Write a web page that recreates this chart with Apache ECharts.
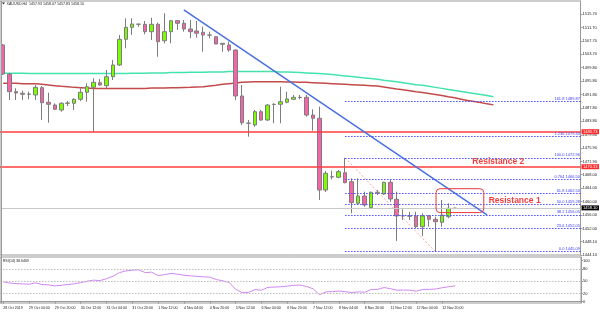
<!DOCTYPE html>
<html><head><meta charset="utf-8">
<script src="https://cdn.jsdelivr.net/npm/echarts@6/dist/echarts.min.js"></script>
<style>html,body{margin:0;padding:0;background:#fff}#c{width:600px;height:313px}</style>
</head><body><div id="c"></div>
<script>
// ---------- DATA ----------
const days = ['28 Oct','29 Oct','30 Oct','31 Oct','1 Nov','4 Nov','5 Nov','6 Nov','7 Nov','8 Nov','11 Nov','12 Nov','13 Nov','14 Nov','15 Nov','18 Nov'];
const hours = ['00:00','04:00','08:00','12:00','16:00','20:00'];
const categories = [];
days.forEach((d, di) => hours.forEach((h, hi) => { if (di === 0 && hi < 3) return; categories.push(d + ' ' + h); }));
categories[0] = '28 Oct 2019';
categories.length = 90;

// H4 candles: [open, high, low, close]
const ohlc = [
 [1506.49,1506.79,1497.58,1497.87],[1497.87,1498.17,1490.15,1492.62],[1492.62,1493.63,1490.15,1492.23],
 [1492.14,1492.91,1490.15,1491.84],[1491.84,1492.62,1490.36,1491.90],[1491.64,1494.61,1490.15,1493.92],
 [1493.80,1494.31,1484.21,1489.35],[1489.47,1492.32,1483.41,1488.87],[1488.66,1489.17,1487.18,1487.39],
 [1487.18,1489.47,1486.67,1489.17],[1489.17,1489.85,1488.37,1489.25],[1489.17,1490.66,1487.18,1490.36],
 [1490.36,1493.63,1489.85,1492.44],[1492.44,1495.11,1489.65,1494.10],[1493.92,1496.60,1480.73,1495.41],
 [1495.29,1496.39,1494.31,1494.61],[1494.40,1499.06,1493.63,1497.07],[1497.07,1502.03,1496.09,1500.55],
 [1500.55,1509.46,1500.25,1508.18],[1508.18,1514.42,1505.51,1511.75],[1511.75,1514.42,1509.46,1512.73],
 [1512.64,1512.73,1511.84,1512.70],[1512.64,1513.62,1509.67,1510.44],[1510.44,1514.60,1507.98,1512.64],
 [1512.64,1513.11,1503.01,1507.47],[1507.77,1515.91,1506.99,1510.44],[1510.44,1513.92,1506.99,1513.71],
 [1513.71,1513.92,1510.95,1512.94],[1512.94,1513.92,1510.44,1511.24],[1511.24,1513.92,1508.48,1510.44],
 [1510.65,1513.62,1508.66,1509.97],[1510.26,1511.93,1504.50,1509.46],[1509.46,1510.44,1508.48,1509.40],
 [1508.96,1509.00,1506.70,1506.79],[1506.99,1507.00,1504.50,1506.70],[1506.49,1507.47,1504.50,1505.00],
 [1505.00,1505.21,1490.15,1491.34],[1491.34,1494.61,1482.72,1483.41],[1483.23,1484.21,1479.25,1483.30],
 [1482.72,1487.18,1482.22,1486.67],[1486.67,1487.18,1483.91,1484.21],[1484.21,1488.87,1483.91,1488.66],
 [1488.87,1489.17,1483.23,1488.80],[1488.87,1494.10,1483.23,1489.65],[1489.47,1492.62,1489.17,1490.45],
 [1490.36,1491.64,1490.15,1490.95],[1490.95,1491.64,1490.36,1490.90],[1490.95,1491.64,1485.19,1485.69],
 [1485.69,1487.39,1481.03,1484.71],[1484.71,1488.16,1460.44,1463.41],[1463.41,1469.06,1462.82,1468.37],
 [1467.36,1469.15,1466.59,1467.30],[1467.19,1469.35,1466.89,1468.85],[1468.55,1472.96,1465.40,1465.58],
 [1465.88,1466.89,1456.49,1459.64],[1459.46,1466.89,1458.95,1461.63],[1461.63,1462.91,1458.45,1458.95],
 [1458.15,1462.91,1457.97,1462.73],[1462.73,1463.41,1461.93,1462.68],[1462.22,1465.88,1461.93,1465.70],
 [1465.70,1466.38,1459.94,1460.74],[1460.65,1462.91,1448.26,1455.69],[1455.69,1457.68,1454.50,1455.75],
 [1455.60,1456.96,1454.50,1455.75],[1455.69,1456.96,1452.03,1452.51],[1452.51,1456.49,1449.75,1455.69],
 [1455.69,1455.99,1452.51,1454.71],[1454.71,1455.48,1445.09,1454.00],[1453.82,1460.44,1452.51,1455.99],
 [1455.48,1459.46,1455.00,1457.97],[1457.93,1458.10,1457.83,1458.05]
];

// shifted moving averages (extend 6 bars past the last candle)
const maGreen = [1498.1,1498.1,1498.1,1498.1,1498.0,1498.0,1498.0,1498.0,1498.0,1498.0,
 1498.0,1498.0,1498.0,1498.0,1498.0,1498.0,1498.0,1498.0,1498.0,1498.0,
 1498.1,1498.1,1498.1,1498.2,1498.2,1498.2,1498.3,1498.3,1498.3,1498.4,
 1498.4,1498.4,1498.5,1498.5,1498.5,1498.6,1498.6,1498.6,1498.6,1498.6,
 1498.6,1498.6,1498.6,1498.5,1498.5,1498.4,1498.3,1498.2,1498.1,1498.0,
 1497.9,1497.7,1497.5,1497.3,1497.1,1496.9,1496.7,1496.5,1496.3,1496.0,
 1495.8,1495.6,1495.3,1495.0,1494.7,1494.5,1494.2,1493.9,1493.6,1493.3,
 1493.0,1492.7,1492.4,1492.1,1491.8,1491.5,1491.1];
const maRed = [1495.1,1495.1,1495.1,1495.0,1495.0,1495.0,1494.8,1494.6,1494.4,1494.2,
 1494.1,1493.9,1493.8,1493.7,1493.6,1493.6,1493.6,1493.6,1493.6,1493.6,
 1493.6,1493.6,1493.6,1493.7,1493.7,1493.7,1493.8,1493.8,1493.85,1493.9,
 1494.0,1494.1,1494.3,1494.5,1494.8,1495.0,1495.2,1495.4,1495.5,1495.6,
 1495.6,1495.6,1495.6,1495.6,1495.5,1495.5,1495.4,1495.4,1495.3,1495.2,
 1495.1,1495.0,1494.9,1494.8,1494.7,1494.6,1494.5,1494.4,1494.3,1494.0,
 1493.7,1493.4,1493.2,1492.9,1492.6,1492.4,1492.1,1491.8,1491.5,1491.1,
 1490.8,1490.4,1490.0,1489.7,1489.4,1489.0,1488.7];

const rsi = [48.5,45.5,44,43.5,42.5,46,42,41,38.5,40,
 42,43.5,46.5,50,52.5,51.5,56,62,71,75,
 77,77.5,71,72,63.5,66,69,67,64.5,63,
 62,60.5,60,54,51,47,30,22.5,22.5,29.5,
 28,35,35.5,36.5,38,40,40.5,37,31.5,17,
 24,24.4,26,24.5,22,24,23,30,30,34.5,
 31.5,28,28.5,28,25.5,30,30,31,34,36.5,38.65];

const priceTicks = [1444.10,1448.10,1452.00,1456.00,1460.00,1464.00,1468.00,1471.90,1475.90,1479.80,
 1483.80,1487.80,1491.80,1495.80,1499.80,1503.70,1507.70,1511.70,1515.70];
const rsiTicks = [0,20,50,80,100];
const rsiLevels = [80,50,20];

const fibStartIdx = 53;
const fibRatios = ['161.8','1.236','100.0','0.764','61.8','50.0','38.2','23.6','0.0'];
const fibPrices = [1489.87,1479.43,1472.96,1466.50,1462.50,1459.28,1456.05,1452.05,1445.09];
const redLevels = [1480.73,1470.33];
const lastPrice = 1458.10;
const trendIdx = [28,75], trendPrice = [1516.9,1456.0];
const swingIdx = [53,67], swingPrice = [1472.96,1445.09];
const noteText = ['Resistance 2','Resistance 1'];
const noteIdx = [76.76,79.28], notePrice = [1471.73,1460.23];
const boxIdx = [67.1,74.5], boxPrice = [1463.8,1456.7];
const titleText = 'XAUUSD,H4  1457.93 1458.07 1457.83 1458.10';
const rsiTitle = 'RSI(14) 38.6469';

// ---------- CHART ----------
const GL = -2.55, GR = 19, RIGHT = 600 - GR;
const FONT = 'Liberation Sans, Arial, sans-serif';
const chart = echarts.init(document.getElementById('c'), null, {renderer:'canvas', width:600, height:313});
const tickFn = (i) => i % 4 === 0 && i <= 68;

const fibLine = {color:'#4d4dff', width:1, type:[1.5,1.5]};
const fibData = fibPrices.map((p, k) => [
  {xAxis: fibStartIdx, yAxis: p, lineStyle: fibLine, label: {formatter: fibRatios[k] + ' ' + p.toFixed(2)}},
  {x: RIGHT, yAxis: p}
]);

const axisBoxLabel = (bg) => ({show:true, position:'end', formatter: (o) => Number(o.value).toFixed(2),
  backgroundColor: bg, color:'#fff', fontSize:4, padding:[0.6,1.5,0.4,1.5], distance:1, fontFamily:FONT});

chart.setOption({
  animation:false,
  textStyle:{fontFamily:FONT},
  grid:[
    {left:GL, right:GR, top:1, height:254, show:true, borderColor:'#9a9a9a', borderWidth:1},
    {left:GL, right:GR, top:257, height:46, show:true, borderColor:'#9a9a9a', borderWidth:1}
  ],
  xAxis:[
    {type:'category', gridIndex:0, data:categories, boundaryGap:true, axisLine:{show:false}, axisTick:{show:false}, axisLabel:{show:false}, splitLine:{show:false}},
    {type:'category', gridIndex:1, data:categories, boundaryGap:true,
      axisLine:{show:true, lineStyle:{color:'#9a9a9a'}},
      axisTick:{show:true, alignWithLabel:true, interval:tickFn, length:2, lineStyle:{color:'#9a9a9a'}},
      axisLabel:{show:true, interval:tickFn, align:'left', fontSize:3.6, margin:2.5, color:'#222', fontFamily:FONT},
      splitLine:{show:false}}
  ],
  yAxis:[
    {type:'value', gridIndex:0, position:'right', min:1444.1, max:1519.56,
      axisLine:{show:true, lineStyle:{color:'#9a9a9a'}},
      axisTick:{show:true, customValues:priceTicks, length:2, lineStyle:{color:'#9a9a9a'}},
      axisLabel:{show:true, customValues:priceTicks, formatter:(v)=>v.toFixed(2), fontSize:4, margin:2, color:'#222', fontFamily:FONT},
      splitLine:{show:false}},
    {type:'value', gridIndex:1, position:'right', min:-3.2, max:109,
      axisLine:{show:true, lineStyle:{color:'#9a9a9a'}},
      axisTick:{show:true, customValues:rsiTicks, length:2, lineStyle:{color:'#9a9a9a'}},
      axisLabel:{show:true, customValues:rsiTicks, formatter:(v)=>String(v), fontSize:4, margin:2, color:'#222', fontFamily:FONT},
      splitLine:{show:false}}
  ],
  series:[
    {type:'line', name:'MA1', xAxisIndex:0, yAxisIndex:0, data:maGreen, symbol:'none', lineStyle:{color:'#43e3ad', width:1.5}, z:2, silent:true},
    {type:'line', name:'MA2', xAxisIndex:0, yAxisIndex:0, data:maRed, symbol:'none', lineStyle:{color:'#c44a4a', width:1.5}, z:2, silent:true},
    {type:'candlestick', xAxisIndex:0, yAxisIndex:0, barWidth:4, clip:true,
      data: ohlc.map(r => [r[0], r[3], r[2], r[1]]),
      itemStyle:{color:'#7cfc00', color0:'#f564a9', borderColor:'#7d7d7d', borderColor0:'#7d7d7d', borderWidth:1},
      z:3,
      markLine:{silent:true, symbol:['none','none'], animation:false,
        data:[
          {yAxis:redLevels[0], lineStyle:{color:'#ff3c3c', width:1.5, type:'solid'}, label:axisBoxLabel('#ff2a2a')},
          {yAxis:redLevels[1], lineStyle:{color:'#ff3c3c', width:1.5, type:'solid'}, label:axisBoxLabel('#ff2a2a')},
          {yAxis:lastPrice, lineStyle:{color:'#c8c8c8', width:1, type:'solid'}, label:axisBoxLabel('#000')}
        ]}
    },
    {type:'line', name:'fib', xAxisIndex:0, yAxisIndex:0, data:[], z:4, color:'#4d4dff',
      markLine:{silent:true, symbol:['none','none'], animation:false,
        lineStyle:fibLine,
        label:{show:true, position:'insideEndTop', fontSize:4, color:'#3c3cff', distance:[1,0.5], fontFamily:FONT},
        data: fibData}
    },
    {type:'line', name:'swing', xAxisIndex:0, yAxisIndex:0, symbol:'none', silent:true, z:4,
      data: swingIdx.map((x, k) => [x, swingPrice[k]]),
      lineStyle:{color:'#ff9d9d', width:1, type:[2,2]}},
    {type:'line', name:'trend', xAxisIndex:0, yAxisIndex:0, symbol:'none', silent:true, z:5,
      data: trendIdx.map((x, k) => [x, trendPrice[k]]),
      lineStyle:{color:'#4a6fe3', width:1.5}},
    {type:'line', name:'RSI', xAxisIndex:1, yAxisIndex:1, data:rsi, symbol:'none', silent:true, color:'#cf88f0',
      lineStyle:{color:'#cf88f0', width:1},
      markLine:{silent:true, symbol:['none','none'], animation:false, label:{show:false},
        data: rsiLevels.map(v => ({yAxis:v, lineStyle:{color:'#bdbdbd', width:1, type:[1.5,1.5]}}))}}
  ]
});

function px(i, p) {
  const a = Math.floor(i), t = i - a;
  const pa = chart.convertToPixel({xAxisIndex:0, yAxisIndex:0}, [a, p]);
  const pb = chart.convertToPixel({xAxisIndex:0, yAxisIndex:0}, [a + 1, p]);
  return [pa[0] + (pb[0] - pa[0]) * t, pa[1]];
}
const b0 = px(boxIdx[0], boxPrice[0]), b1 = px(boxIdx[1], boxPrice[1]);
const graphics = [
  {type:'line', shape:{x1:1.5, y1:1, x2:1.5, y2:303.5}, style:{stroke:'#9a9a9a', lineWidth:1}, z:10},
  {type:'rect', shape:{x:b0[0], y:b0[1], width:b1[0]-b0[0], height:b1[1]-b0[1], r:4}, style:{fill:'none', stroke:'#e8393f', lineWidth:1}, z:10},
  {type:'polygon', shape:{points:[[2,2.6],[5,2.6],[3.5,4.6]]}, style:{fill:'#222'}, z:10},
  {type:'text', style:{text:titleText, x:6.5, y:4, verticalAlign:'middle', fill:'#222', font:'3.6px ' + FONT}, z:10},
  {type:'text', style:{text:rsiTitle, x:2.7, y:260.7, verticalAlign:'middle', fill:'#222', font:'3.6px ' + FONT}, z:10}
];
noteText.forEach((t, k) => {
  const p = px(noteIdx[k], notePrice[k]);
  graphics.push({type:'text', style:{text:t, x:p[0], y:p[1], align:'center', verticalAlign:'middle', fill:'#f23d3d', font:'bold 8.5px ' + FONT}, z:10});
});
chart.setOption({graphic: graphics});
</script>
</body></html>
